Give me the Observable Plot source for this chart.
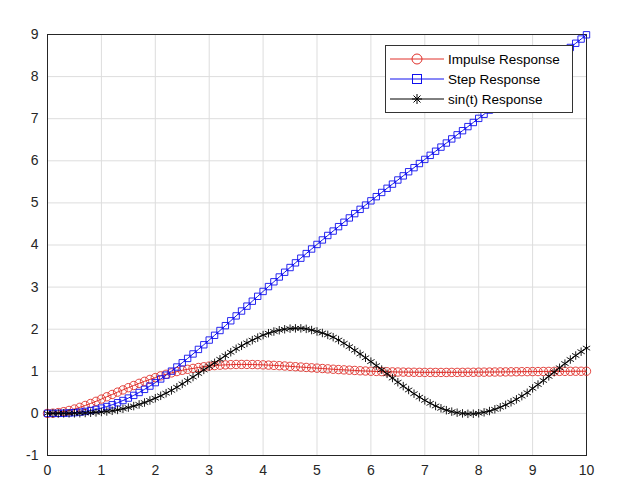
<!DOCTYPE html>
<html>
<head>
<meta charset="utf-8">
<script src="https://cdn.jsdelivr.net/npm/d3@7"></script>
<script src="https://cdn.jsdelivr.net/npm/@observablehq/plot@0.6"></script>
<style>
  body { margin: 0; background: #fff; font-family: "Liberation Sans", Arial, sans-serif; }
  #chart { position: relative; width: 626px; height: 501px; }
  #legend { position: absolute; left: 385px; top: 45px; width: 186px; background: #fff;
    border: 1px solid #333; font-size: 13.5px; padding: 3px 0; }
  #legend div { display: flex; align-items: center; height: 20px; }
  #legend svg { margin: 0 4px 0 4px; }
</style>
</head>
<body>
<div id="chart"></div>
<script>
const impulse = [0, .005, .019, .041, .070, .104, .144, .189, .236, .287, .340, .395, .450, .505, .558, .611,
  .663, .714, .762, .807, .850, .891, .929, .962, .994, 1.024, 1.047, 1.069, 1.090, 1.108, 1.124,
  1.136, 1.146, 1.153, 1.158, 1.162, 1.163, 1.163, 1.161, 1.158, 1.153, 1.147, 1.141, 1.134, 1.126, 1.118,
  1.109, 1.101, 1.092, 1.083, 1.075, 1.066, 1.058, 1.049, 1.041, 1.034, 1.027, 1.020, 1.013, 1.007, 1.002,
  .997, .993, .989, .986, .983, .981, .978, .977, .975, .974, .974, .973, .973, .973, .974,
  .974, .975, .976, .977, .979, .980, .982, .983, .985, .986, .988, .989, .991, .992, .993,
  .994, .996, .997, .998, .998, .999, 1.000, 1.001, 1.001, 1.002];
const step = [0, .0002, .0013, .0044, .0102, .0184, .031, .047, .068, .094, .126, .163, .205, .253, .306, .364,
  .428, .497, .571, .649, .731, .818, .909, 1.004, 1.102, 1.203, 1.306, 1.412, 1.520, 1.630, 1.742,
  1.855, 1.969, 2.084, 2.200, 2.316, 2.432, 2.548, 2.665, 2.781, 2.897, 3.012, 3.126, 3.240, 3.353, 3.465,
  3.576, 3.687, 3.796, 3.905, 4.013, 4.120, 4.226, 4.331, 4.436, 4.540, 4.643, 4.745, 4.847, 4.948, 5.049,
  5.148, 5.248, 5.347, 5.446, 5.544, 5.642, 5.740, 5.837, 5.935, 6.033, 6.130, 6.227, 6.325, 6.422, 6.520,
  6.617, 6.715, 6.812, 6.910, 7.008, 7.106, 7.204, 7.302, 7.401, 7.500, 7.599, 7.698, 7.797, 7.896, 7.994,
  8.093, 8.193, 8.292, 8.392, 8.492, 8.592, 8.692, 8.792, 8.892, 8.993];
const sinResp = [0, 0, .0001, .0003, .001, .003, .005, .010, .016, .024, .033, .046, .062, .083, .109, .139,
  .174, .213, .258, .307, .360, .418, .480, .546, .621, .700, .781, .864, .948, 1.033, 1.117,
  1.201, 1.285, 1.370, 1.453, 1.535, 1.606, 1.675, 1.740, 1.800, 1.860, 1.905, 1.945, 1.975, 1.998, 2.013,
  2.020, 2.020, 2.008, 1.980, 1.946, 1.910, 1.865, 1.810, 1.742, 1.666, 1.585, 1.500, 1.412, 1.322, 1.230,
  1.135, 1.040, .940, .840, .741, .648, .556, .468, .386, .310, .240, .176, .121, .076, .042,
  .017, 0, -.010, -.008, .003, .025, .056, .097, .146, .202, .265, .334, .410, .490, .594,
  .686, .782, .880, .980, 1.083, 1.183, 1.280, 1.375, 1.465, 1.551];
const times = impulse.map((_, i) => i / 10);

const rows = (ys) => ys.map((y, i) => ({t: times[i], y}));
const series = [
  {name: "Impulse Response", data: rows(impulse), color: "#e0302a", symbol: "circle", r: 4.2},
  {name: "Step Response", data: rows(step), color: "#1010ee", symbol: "square", r: 3.6},
  {name: "sin(t) Response", data: rows(sinResp), color: "#000", symbol: "asterisk", r: 4}
];

const marks = [
  Plot.gridX(d3.range(0, 11), {stroke: "#ddd", strokeOpacity: 1}),
  Plot.gridY(d3.range(-1, 10), {stroke: "#ddd", strokeOpacity: 1}),
  Plot.axisX(d3.range(0, 11), {tickSize: 0, tickPadding: 10, fontSize: 14, color: "#262626", tickFormat: d => String(d)}),
  Plot.axisY(d3.range(-1, 10), {tickSize: 0, tickPadding: 9, fontSize: 14, color: "#262626", tickFormat: d => String(d)}),
  Plot.frame({stroke: "#262626"})
];
for (const s of series) {
  marks.push(Plot.line(s.data, {x: "t", y: "y", stroke: s.color, strokeWidth: 1}));
  marks.push(Plot.dot(s.data, {x: "t", y: "y", stroke: s.color, symbol: s.symbol, r: s.r, fill: "none", strokeWidth: 0.9}));
}

const chart = Plot.plot({
  width: 626, height: 501,
  marginLeft: 47, marginRight: 40, marginTop: 34, marginBottom: 46,
  style: {fontFamily: "Liberation Sans, Arial, sans-serif", background: "#fff"},
  x: {domain: [0, 10], label: null},
  y: {domain: [-1, 9], label: null},
  marks
});
const container = document.getElementById("chart");
container.appendChild(chart);

const legend = document.createElement("div");
legend.id = "legend";
const glyph = {
  circle: '<circle cx="27" cy="8" r="5" fill="none"/>',
  square: '<rect x="22.5" y="3.5" width="9" height="9" fill="none"/>',
  asterisk: '<path d="M27 3v10M22 8h10M23.5 4.5l7 7M30.5 4.5l-7 7"/>'
};
for (const s of series) {
  const row = document.createElement("div");
  row.innerHTML = `<svg width="54" height="16" stroke="${s.color}"><line x1="0" x2="54" y1="8" y2="8"/>${glyph[s.symbol]}</svg><span>${s.name}</span>`;
  legend.appendChild(row);
}
container.appendChild(legend);
</script>
</body>
</html>
